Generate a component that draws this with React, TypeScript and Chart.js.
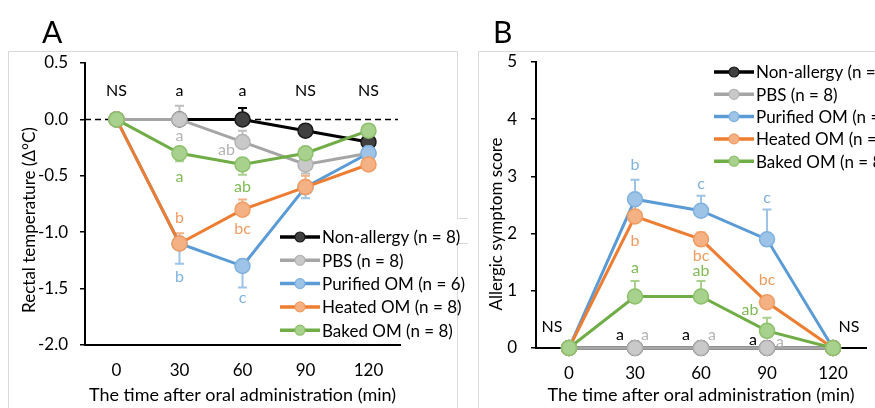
import { useEffect, useRef } from 'react';
import { Chart, registerables } from 'chart.js';

Chart.register(...registerables);

// ---------- data ----------
const timePoints = ['0', '30', '60', '90', '120'];
const groupNames = ['Non-allergy (n = 8)', 'PBS (n = 8)', 'Purified OM (n = 6)', 'Heated OM (n = 8)', 'Baked OM (n = 8)'];

// Panel A: rectal temperature change (Δ°C)
const tempNonAllergy = [0, 0, 0, -0.1, -0.2];
const tempPBS = [0, 0, -0.2, -0.4, -0.3];
const tempPurified = [0, -1.1, -1.3, -0.6, -0.3];
const tempHeated = [0, -1.1, -0.8, -0.6, -0.4];
const tempBaked = [0, -0.3, -0.4, -0.3, -0.1];
// one-sided error bars (sign gives the drawn direction)
const tempErrNonAllergy = [0, 0.03, 0.1, 0.05, 0.04];
const tempErrPBS = [0, 0.12, 0.1, -0.08, 0.05];
const tempErrPurified = [0, -0.18, -0.19, -0.1, -0.05];
const tempErrHeated = [0, 0.09, 0.09, 0.1, 0.05];
const tempErrBaked = [0, -0.07, -0.09, -0.05, -0.04];
const tempTickValues = [-2.0, -1.5, -1.0, -0.5, 0.0, 0.5];

// Panel B: allergic symptom score
const scoreNonAllergy = [0, 0, 0, 0, 0];
const scorePBS = [0, 0, 0, 0, 0];
const scorePurified = [0, 2.6, 2.4, 1.9, 0];
const scoreHeated = [0, 2.3, 1.9, 0.8, 0];
const scoreBaked = [0, 0.9, 0.9, 0.3, 0];
const scoreErrNonAllergy = [0, 0, 0, 0, 0];
const scoreErrPBS = [0, 0, 0, 0, 0];
const scoreErrPurified = [0, 0.34, 0.26, 0.52, 0];
const scoreErrHeated = [0, 0.22, 0.12, 0.1, 0];
const scoreErrBaked = [0, 0.27, 0.27, 0.23, 0];
const scoreTickValues = [0, 1, 2, 3, 4, 5];

// significance letters: [text, group, time index, y value, x shift]
type Letter = [string, number, number, number, number];
const tempLetters: Letter[] = [
  ['NS', 0, 0, 0.25, 0], ['a', 0, 1, 0.25, 0], ['a', 0, 2, 0.25, 0], ['NS', 0, 3, 0.25, 0], ['NS', 0, 4, 0.25, 0],
  ['a', 1, 1, -0.15, 0], ['ab', 1, 2, -0.27, -16],
  ['a', 4, 1, -0.51, 0], ['ab', 4, 2, -0.6, 0],
  ['b', 3, 1, -0.87, 0], ['bc', 3, 2, -0.97, 0],
  ['b', 2, 1, -1.4, 0], ['c', 2, 2, -1.58, 0],
];
const scoreLetters: Letter[] = [
  ['NS', 0, 0, 0.37, -17], ['NS', 0, 4, 0.37, 16],
  ['b', 2, 1, 3.2, 0], ['c', 2, 2, 2.87, 0], ['c', 2, 3, 2.62, 0],
  ['b', 3, 1, 1.87, 0], ['bc', 3, 2, 1.61, 0], ['bc', 3, 3, 1.2, 0],
  ['a', 4, 1, 1.4, 0], ['ab', 4, 2, 1.35, 0], ['ab', 4, 3, 0.66, -17],
  ['a', 0, 1, 0.23, -15], ['a', 1, 1, 0.23, 10],
  ['a', 0, 2, 0.23, -15], ['a', 1, 2, 0.23, 11],
  ['a', 0, 3, 0.14, -14], ['a', 1, 3, 0.1, 13],
];

// ---------- styles ----------
const FONT = 'Lato, "Open Sans", sans-serif';
const lineColors = ['#000000', '#a5a5a5', '#5b9bd5', '#ed7d31', '#70ad47'];
const pointFills = ['#404040', '#c9c9c9', '#9dc3e6', '#f4b183', '#a9d18e'];
const pointBorders = ['#1a1a1a', '#b3b3b3', '#7eb1e0', '#f19c62', '#8cc06a'];
const errColors = ['#000000', '#bfbfbf', '#9dc3e6', '#f4b183', '#a9d18e'];
const letterColors = ['#000000', '#b4b4b4', '#7eb1e0', '#f19c5f', '#7fbb55'];

interface PanelCfg {
  letter: string;
  letterX: number;
  yTitle: string;
  yTitleX: number;
  yTitleY: number;
  frame: number[][];
  zeroLine: boolean;
  errors: number[][];
  letters: Letter[];
  legendX: number;
  legendY: number;
  legendDy: number;
}

function decorPlugin(cfg: PanelCfg) {
  return {
    id: 'decor',
    beforeDraw(chart: any) {
      const ctx = chart.ctx;
      ctx.save();
      ctx.strokeStyle = '#d9d9d9';
      ctx.lineWidth = 1;
      for (const path of cfg.frame) {
        ctx.beginPath();
        ctx.moveTo(path[0], path[1]);
        for (let k = 2; k < path.length; k += 2) ctx.lineTo(path[k], path[k + 1]);
        ctx.stroke();
      }
      ctx.fillStyle = '#000';
      ctx.font = `30px ${FONT}`;
      ctx.textAlign = 'left';
      ctx.textBaseline = 'alphabetic';
      ctx.fillText(cfg.letter, cfg.letterX, 43);
      // y axis title
      ctx.font = `17px ${FONT}`;
      ctx.translate(cfg.yTitleX, cfg.yTitleY);
      ctx.rotate(-Math.PI / 2);
      ctx.textAlign = 'center';
      ctx.textBaseline = 'middle';
      ctx.fillText(cfg.yTitle, 0, 0);
      ctx.restore();
    },
    beforeDatasetsDraw(chart: any) {
      const ctx = chart.ctx;
      const ys = chart.scales.y;
      const area = chart.chartArea;
      ctx.save();
      if (cfg.zeroLine) {
        const y0 = ys.getPixelForValue(0);
        ctx.strokeStyle = '#000';
        ctx.lineWidth = 1.5;
        ctx.setLineDash([6, 4]);
        ctx.beginPath();
        ctx.moveTo(area.left, y0);
        ctx.lineTo(area.right - 2, y0);
        ctx.stroke();
        ctx.setLineDash([]);
      }
      chart.data.datasets.forEach((ds: any, di: number) => {
        const meta = chart.getDatasetMeta(di);
        const errs = cfg.errors[di];
        ctx.strokeStyle = errColors[di];
        ctx.lineWidth = 2;
        ds.data.forEach((v: number, i: number) => {
          const e = errs[i];
          if (!e) return;
          const x = meta.data[i].x;
          const y0 = ys.getPixelForValue(v);
          const y1 = ys.getPixelForValue(v + e);
          ctx.beginPath();
          ctx.moveTo(x, y0);
          ctx.lineTo(x, y1);
          ctx.moveTo(x - 4.5, y1);
          ctx.lineTo(x + 4.5, y1);
          ctx.stroke();
        });
      });
      ctx.restore();
    },
    afterDatasetsDraw(chart: any) {
      const ctx = chart.ctx;
      const ys = chart.scales.y;
      const xs = chart.scales.x;
      ctx.save();
      ctx.font = `16px ${FONT}`;
      ctx.textAlign = 'center';
      ctx.textBaseline = 'middle';
      for (const [text, g, i, v, dx] of cfg.letters) {
        ctx.fillStyle = letterColors[g];
        ctx.fillText(text, xs.getPixelForValue(i) + dx, ys.getPixelForValue(v));
      }
      // legend
      ctx.textAlign = 'left';
      ctx.font = `17px ${FONT}`;
      chart.data.datasets.forEach((ds: any, di: number) => {
        const y = cfg.legendY + di * cfg.legendDy;
        const x = cfg.legendX;
        ctx.strokeStyle = lineColors[di];
        ctx.lineWidth = 3.5;
        ctx.beginPath();
        ctx.moveTo(x, y);
        ctx.lineTo(x + 40, y);
        ctx.stroke();
        ctx.beginPath();
        ctx.arc(x + 20, y, 5, 0, Math.PI * 2);
        ctx.fillStyle = pointFills[di];
        ctx.fill();
        ctx.lineWidth = 1.2;
        ctx.strokeStyle = pointBorders[di];
        ctx.stroke();
        ctx.fillStyle = '#000';
        ctx.fillText(ds.label, x + 42, y + 1);
      });
      ctx.restore();
    },
  };
}

function makeDatasets(series: number[][]) {
  return series.map((data, di) => ({
    label: groupNames[di],
    data,
    borderColor: lineColors[di],
    borderWidth: 3,
    pointRadius: 7.5,
    pointBorderWidth: 1.5,
    pointBackgroundColor: pointFills[di],
    pointBorderColor: pointBorders[di],
    tension: 0,
    clip: false as const,
    order: series.length - di,
  }));
}

function makeOptions(opts: {
  min: number; max: number; tickValues: number[]; fmt: (v: number) => string;
  yWidth: number; xHeight: number; padRight: number; padTop: number; tickPad: number;
}) {
  return {
    responsive: false,
    animation: false as const,
    devicePixelRatio: 1,
    layout: { padding: { left: 0, right: opts.padRight, top: opts.padTop, bottom: 0 } },
    plugins: { legend: { display: false }, tooltip: { enabled: false }, title: { display: false } },
    scales: {
      x: {
        type: 'category' as const,
        offset: true,
        grid: { display: false, drawTicks: false },
        border: { display: true, color: '#000', width: 2 },
        ticks: { color: '#000', font: { family: FONT, size: 17 }, padding: 15 },
        title: {
          display: true,
          text: 'The time after oral administration (min)',
          color: '#000',
          font: { family: FONT, size: 18 },
          padding: { top: 0, bottom: 2 },
        },
        afterFit: (s: any) => { s.height = opts.xHeight; },
      },
      y: {
        min: opts.min,
        max: opts.max,
        grid: { display: true, drawOnChartArea: false, drawTicks: true, tickLength: 5, color: '#000', lineWidth: 1.5 },
        border: { display: true, color: '#000', width: 2 },
        ticks: {
          color: '#000',
          font: { family: FONT, size: 17 },
          padding: opts.tickPad,
          callback: (v: any) => opts.fmt(Number(v)),
        },
        afterBuildTicks: (s: any) => { s.ticks = opts.tickValues.map((value) => ({ value })); },
        afterFit: (s: any) => { s.width = opts.yWidth; },
      },
    },
  };
}

export default function App() {
  const refA = useRef<HTMLCanvasElement>(null);
  const refB = useRef<HTMLCanvasElement>(null);

  useEffect(() => {
    const chartA = new Chart(refA.current!, {
      type: 'line',
      data: {
        labels: timePoints,
        datasets: makeDatasets([tempNonAllergy, tempPBS, tempPurified, tempHeated, tempBaked]),
      },
      options: makeOptions({
        min: -2, max: 0.5, tickValues: tempTickValues, fmt: (v) => v.toFixed(1),
        yWidth: 85, xHeight: 63, padRight: 70, padTop: 63, tickPad: 12,
      }) as any,
      plugins: [decorPlugin({
        letter: 'A', letterX: 42,
        yTitle: 'Rectal temperature (Δ°C)', yTitleX: 30, yTitleY: 220,
        frame: [[8.5, 420, 8.5, 51.5, 457.5, 51.5, 457.5, 218.5, 468, 218.5], [468, 243.5, 457.5, 243.5, 457.5, 420]],
        zeroLine: true,
        errors: [tempErrNonAllergy, tempErrPBS, tempErrPurified, tempErrHeated, tempErrBaked],
        letters: tempLetters,
        legendX: 280, legendY: 237, legendDy: 23.3,
      })],
    });
    const chartB = new Chart(refB.current!, {
      type: 'line',
      data: {
        labels: timePoints,
        datasets: makeDatasets([scoreNonAllergy, scorePBS, scorePurified, scoreHeated, scoreBaked]),
      },
      options: makeOptions({
        min: 0, max: 5, tickValues: scoreTickValues, fmt: (v) => String(v),
        yWidth: 66, xHeight: 60, padRight: 3, padTop: 62, tickPad: 14,
      }) as any,
      plugins: [decorPlugin({
        letter: 'B', letterX: 23,
        yTitle: 'Allergic symptom score', yTitleX: 27, yTitleY: 224,
        frame: [[8.5, 420, 8.5, 51.5, 420, 51.5]],
        zeroLine: false,
        errors: [scoreErrNonAllergy, scoreErrPBS, scoreErrPurified, scoreErrHeated, scoreErrBaked],
        letters: scoreLetters,
        legendX: 244, legendY: 72, legendDy: 22.3,
      })],
    });
    return () => { chartA.destroy(); chartB.destroy(); };
  }, []);

  return (
    <div style={{ position: 'fixed', left: 0, top: 0, width: 875, height: 408, background: '#fff', overflow: 'hidden' }}>
      <canvas ref={refA} width={470} height={408} style={{ position: 'absolute', left: 0, top: 0 }} />
      <canvas ref={refB} width={405} height={408} style={{ position: 'absolute', left: 470, top: 0 }} />
    </div>
  );
}
